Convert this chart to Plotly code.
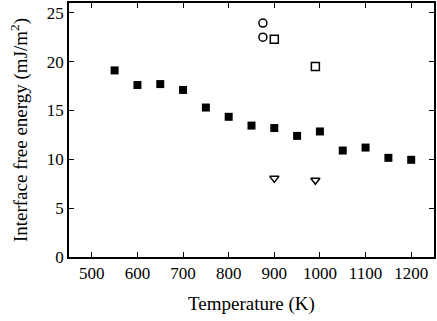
import plotly.graph_objects as go

# filled squares
temp_main = [550, 600, 650, 700, 750, 800, 850, 900, 950, 1000, 1050, 1100, 1150, 1200]
energy_main = [19.1, 17.6, 17.7, 17.1, 15.3, 14.35, 13.45, 13.2, 12.4, 12.85, 10.9, 11.2, 10.15, 9.95]

# open circles
temp_circ = [875, 875]
energy_circ = [23.95, 22.5]

# open squares
temp_osq = [900, 990]
energy_osq = [22.3, 19.5]

# open down triangles
temp_tri = [900, 990]
energy_tri = [8.05, 7.85]

FONT = "Liberation Serif, Times New Roman, serif"

fig = go.Figure()
fig.add_trace(go.Scatter(x=temp_main, y=energy_main, mode="markers",
    marker=dict(symbol="square", size=8, color="black"), showlegend=False))
fig.add_trace(go.Scatter(x=temp_circ, y=energy_circ, mode="markers",
    marker=dict(symbol="circle-open", size=8, color="black", line=dict(width=1.5)), showlegend=False))
fig.add_trace(go.Scatter(x=temp_osq, y=energy_osq, mode="markers",
    marker=dict(symbol="square-open", size=8, color="black", line=dict(width=1.5)), showlegend=False))
fig.add_trace(go.Scatter(x=temp_tri, y=energy_tri, mode="markers",
    marker=dict(symbol="triangle-down-open", size=8, color="black", line=dict(width=1.5)), showlegend=False))

axis = dict(showgrid=False, zeroline=False, showline=True, linecolor="black", linewidth=1.5,
            mirror="allticks", ticks="inside", ticklen=5, tickwidth=1, tickcolor="black",
            tickfont=dict(family=FONT, size=17, color="black"))

fig.update_xaxes(range=[450, 1250], tickvals=[500, 600, 700, 800, 900, 1000, 1100, 1200],
                 title=dict(text="Temperature (K)", font=dict(family=FONT, size=19, color="black"), standoff=15),
                 **axis)
fig.update_yaxes(range=[0, 26], tickvals=[0, 5, 10, 15, 20, 25],
                 title=dict(text="Interface free energy (mJ/m<sup>2</sup>)",
                            font=dict(family=FONT, size=19, color="black"), standoff=14),
                 **axis)
fig.update_layout(width=437, height=321, paper_bgcolor="white", plot_bgcolor="white",
                  margin=dict(l=69, r=2, t=1, b=64))
# drop the browser's default body margin so the figure sits at the page corner
fig.write_html("out.html", config={"displayModeBar": False},
               post_script="document.body.style.margin='0';")
